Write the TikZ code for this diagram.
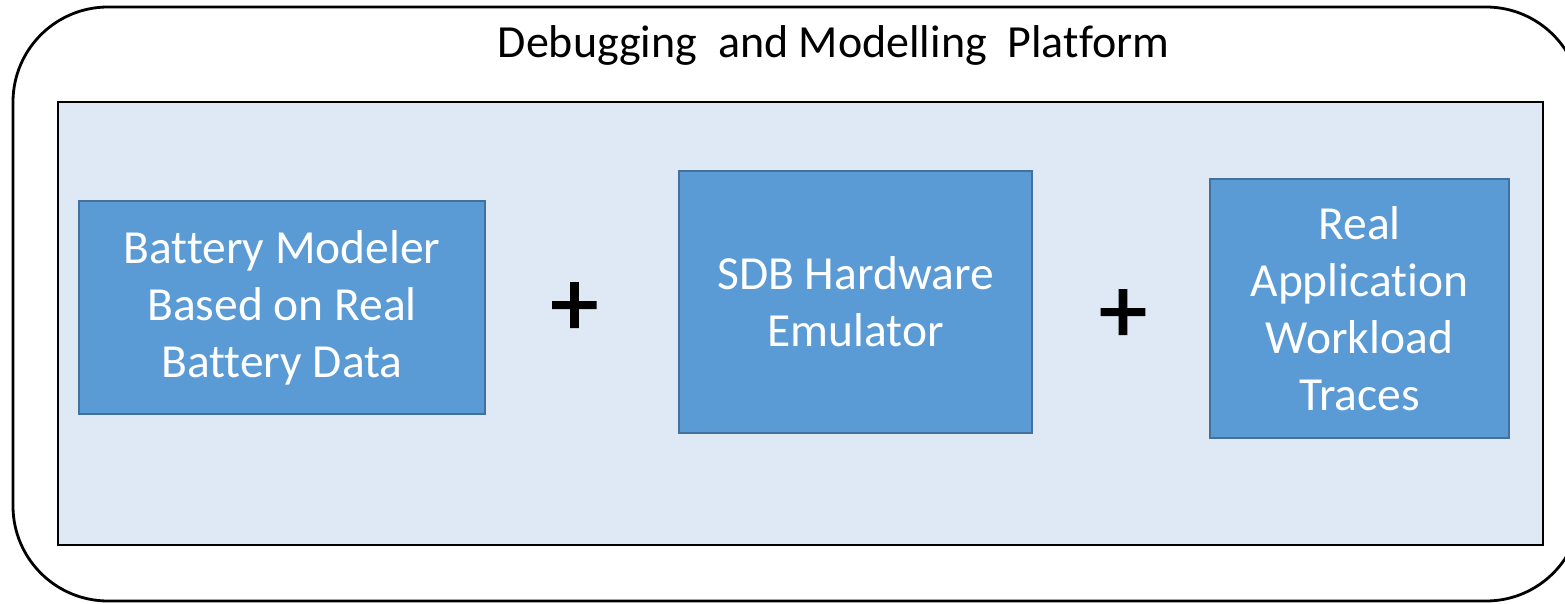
\documentclass[tikz,border=0pt]{standalone}
\usepackage{fontspec}
\setmainfont{Carlito}[Ligatures=NoCommon]
\newfontfamily\plusfont{Carlito}[FakeBold=2.2]
\usetikzlibrary{shadows}
\definecolor{panelfill}{RGB}{222,233,245}
\definecolor{boxfill}{RGB}{91,155,213}
\definecolor{boxline}{RGB}{65,113,156}
\tikzset{
  frame/.style={draw=black, line width=2.8pt, rounded corners=95pt, minimum width=1568pt, minimum height=594pt, inner sep=0pt},
  panel/.style={draw=black, line width=2.6pt, fill=panelfill, minimum width=1485pt, minimum height=443pt, inner sep=0pt,
    drop shadow={shadow xshift=1.2pt, shadow yshift=-1.2pt, opacity=0.45, fill=black}},
  block/.style={draw=boxline, line width=2pt, fill=boxfill, text=white, align=center, inner sep=0pt,
    font=\fontsize{47.5}{57}\selectfont},
  heading/.style={font=\fontsize{46}{57}\selectfont},
  plus/.style={font=\plusfont\fontsize{94}{94}\selectfont, inner sep=0pt}
}
\begin{document}
\begin{tikzpicture}[x=1pt,y=-1pt]
  \useasboundingbox (0,0) rectangle (1565,604);
  % outer rounded frame (its right side runs past the page edge)
  \node[frame] (platform) at (797,304) {};
  \node[heading] (title) at (833.5,45) {Debugging\ \ and Modelling\ \ Platform};
  % light blue panel holding the three parts
  \node[panel] (panel) at (800.5,323.5) {};
  % the three parts
  \node[block, minimum width=406pt, minimum height=213pt] (modeler) at (282,307.5)
    {Battery Modeler\\Based on Real\\Battery Data};
  \node[block, minimum width=353pt, minimum height=262pt] (emulator) at (855.5,302)
    {SDB Hardware\\Emulator};
  \node[block, minimum width=299pt, minimum height=259pt] (traces) at (1359.5,308.5)
    {Real\\Application\\Workload\\Traces};
  % plus signs between them
  \node[plus] (plusA) at (574.5,309) {+};
  \node[plus] (plusB) at (1123,316) {+};
\end{tikzpicture}
\end{document}
